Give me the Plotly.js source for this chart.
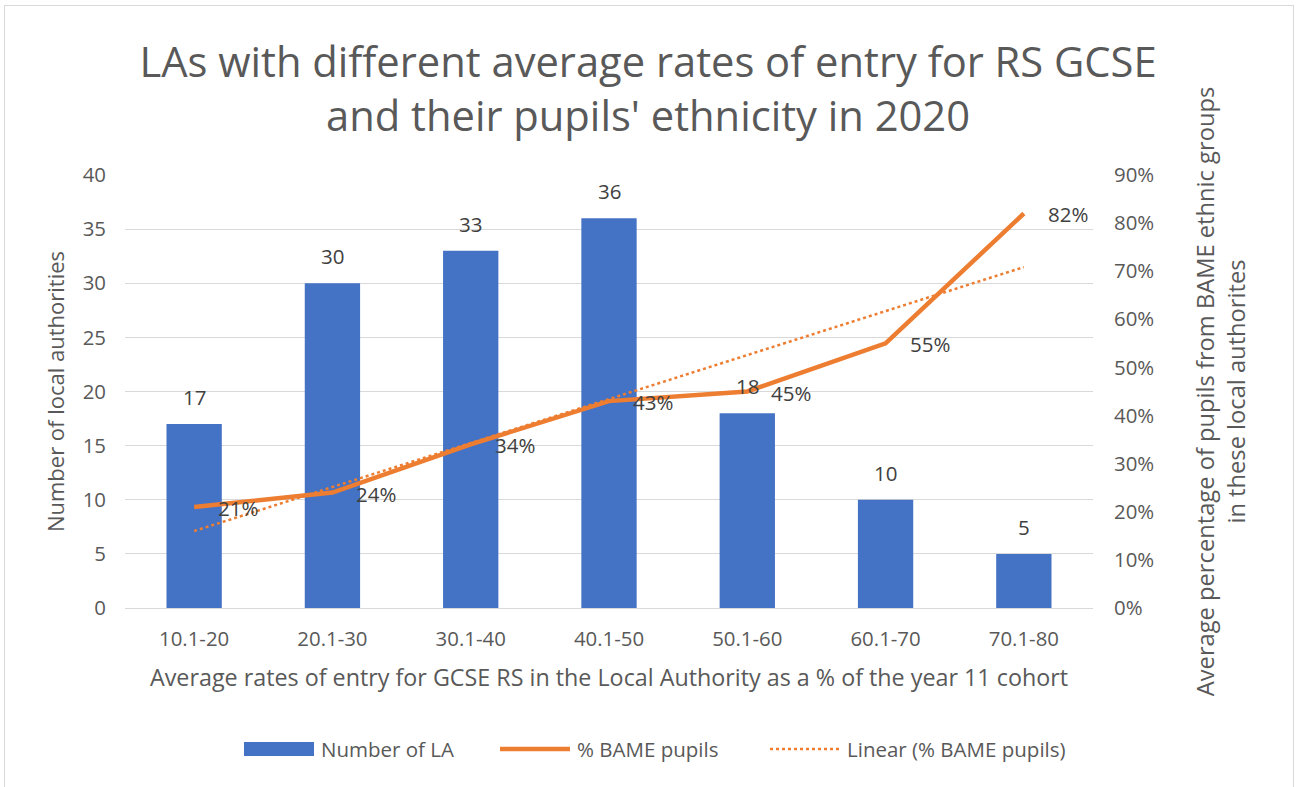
<!DOCTYPE html>
<html>
<head>
<meta charset="utf-8">
<script src="https://cdn.plot.ly/plotly-3.0.1.min.js"></script>
<style>
  html, body { margin: 0; padding: 0; background: #fff; }
  #wrap { position: relative; width: 1296px; height: 787px; }
  #chart { width: 1296px; height: 787px; }
  #frame { position: absolute; left: 4px; top: 5px; width: 1290px; height: 790px;
           border: 1px solid #d9d9d9; pointer-events: none; box-sizing: border-box; }
</style>
</head>
<body>
<div id="wrap">
  <div id="chart"></div>
  <div id="frame"></div>
</div>
<script>
const categories = ["10.1-20", "20.1-30", "30.1-40", "40.1-50", "50.1-60", "60.1-70", "70.1-80"];
const numberOfLA = [17, 30, 33, 36, 18, 10, 5];
const bamePct = [21, 24, 34, 43, 45, 55, 82];
const leftTicks = [0, 5, 10, 15, 20, 25, 30, 35, 40];
const rightTicks = [0, 10, 20, 30, 40, 50, 60, 70, 80, 90];

// Linear trendline (least squares) of % BAME pupils, as Excel's "Linear" trendline
const n = bamePct.length;
const xs = bamePct.map((_, i) => i + 1);
const mx = xs.reduce((a, b) => a + b, 0) / n;
const my = bamePct.reduce((a, b) => a + b, 0) / n;
let sxy = 0, sxx = 0;
for (let i = 0; i < n; i++) { sxy += (xs[i] - mx) * (bamePct[i] - my); sxx += (xs[i] - mx) ** 2; }
const slope = sxy / sxx, intercept = my - slope * mx;
const trend = xs.map(x => intercept + slope * x);

const FONT = "'Open Sans', sans-serif";
const GREY = "#595959";
const ITEMW = 72;

const traces = [
  { type: "bar", name: "Number of LA", x: categories, y: numberOfLA,
    marker: { color: "#4472C4" }, width: 0.4, yaxis: "y", hoverinfo: "x+y", legendwidth: 169 },
  { type: "scatter", mode: "lines", name: "% BAME pupils", x: categories, y: bamePct,
    line: { color: "#ED7D31", width: 4.5 }, yaxis: "y2", legendwidth: 183 },
  { type: "scatter", mode: "lines", name: "Linear (% BAME pupils)", x: categories, y: trend,
    line: { color: "#ED7D31", width: 2.5, dash: "dot" }, yaxis: "y2", legendwidth: 245 }
];

const annotations = [];
categories.forEach((c, i) => {
  annotations.push({ x: c, y: numberOfLA[i], xref: "x", yref: "y", text: String(numberOfLA[i]),
    showarrow: false, yshift: 27, font: { family: FONT, size: 20.5, color: "#404040" } });
  annotations.push({ x: c, y: bamePct[i], xref: "x", yref: "y2", text: bamePct[i] + "%",
    showarrow: false, xanchor: "left", xshift: 22, yshift: -1, font: { family: FONT, size: 20.5, color: "#404040" } });
});

const layout = {
  width: 1296, height: 787,
  margin: { l: 125, r: 203, t: 175, b: 179 },
  paper_bgcolor: "#fff", plot_bgcolor: "#fff",
  font: { family: FONT, color: GREY },
  title: { text: "LAs with different average rates of entry for RS GCSE<br>and their pupils' ethnicity in 2020",
    font: { family: FONT, size: 41.7, color: GREY }, x: 0.5, xanchor: "center", xref: "container",
    y: 0.902, yanchor: "middle", yref: "container" },
  bargap: 0.6,
  xaxis: { type: "category", showgrid: false, showline: true, linecolor: "#d9d9d9", linewidth: 1,
    ticks: "", ticklabelstandoff: 13, tickfont: { family: FONT, size: 20.4, color: GREY },
    title: { text: "Average rates of entry for GCSE RS in the Local Authority as a % of the year 11 cohort",
      font: { family: FONT, size: 23.3, color: GREY }, standoff: 18 } },
  yaxis: { range: [0, 40], tickvals: leftTicks, showgrid: true, gridcolor: "#d9d9d9", gridwidth: 1,
    zeroline: false, showline: false, ticks: "", ticklabelstandoff: 18,
    tickfont: { family: FONT, size: 20.4, color: GREY },
    title: { text: "Number of local authorities", font: { family: FONT, size: 22, color: GREY }, standoff: 11 } },
  yaxis2: { range: [0, 90], tickvals: rightTicks, ticktext: rightTicks.map(v => v + "%"),
    overlaying: "y", side: "right", showgrid: false, zeroline: false, showline: false, ticks: "",
    ticklabelstandoff: 20, tickfont: { family: FONT, size: 20.4, color: GREY },
    title: { text: "Average percentage of pupils from BAME ethnic groups<br>in these local authorites",
      font: { family: FONT, size: 23.7, color: GREY }, standoff: 44 } },
  legend: { orientation: "h", xref: "container", yref: "container", x: 239 / 1296, xanchor: "left",
    y: 0.048, yanchor: "middle", font: { family: FONT, size: 20.5, color: GREY },
    itemwidth: ITEMW, traceorder: "normal" },
  showlegend: true,
  annotations: annotations
};

Plotly.newPlot("chart", traces, layout, { displayModeBar: false, responsive: false }).then(gd => {
  // widen legend keys to look like the original legend (70px long keys)
  const centre = (ITEMW + 10) / 2;
  gd.querySelectorAll(".legend .traces").forEach(tr => {
    const lines = tr.querySelectorAll(".legendlines path");
    if (lines.length) {
      lines.forEach(p => p.setAttribute("d", "M5,0h70"));
    } else {
      tr.querySelectorAll(".legendpoints path").forEach(p => {
        const l = 5 - centre, r = 75 - centre;
        p.setAttribute("d", `M${r},7H${l}V-7H${r}Z`);
      });
    }
  });
});
</script>
</body>
</html>
